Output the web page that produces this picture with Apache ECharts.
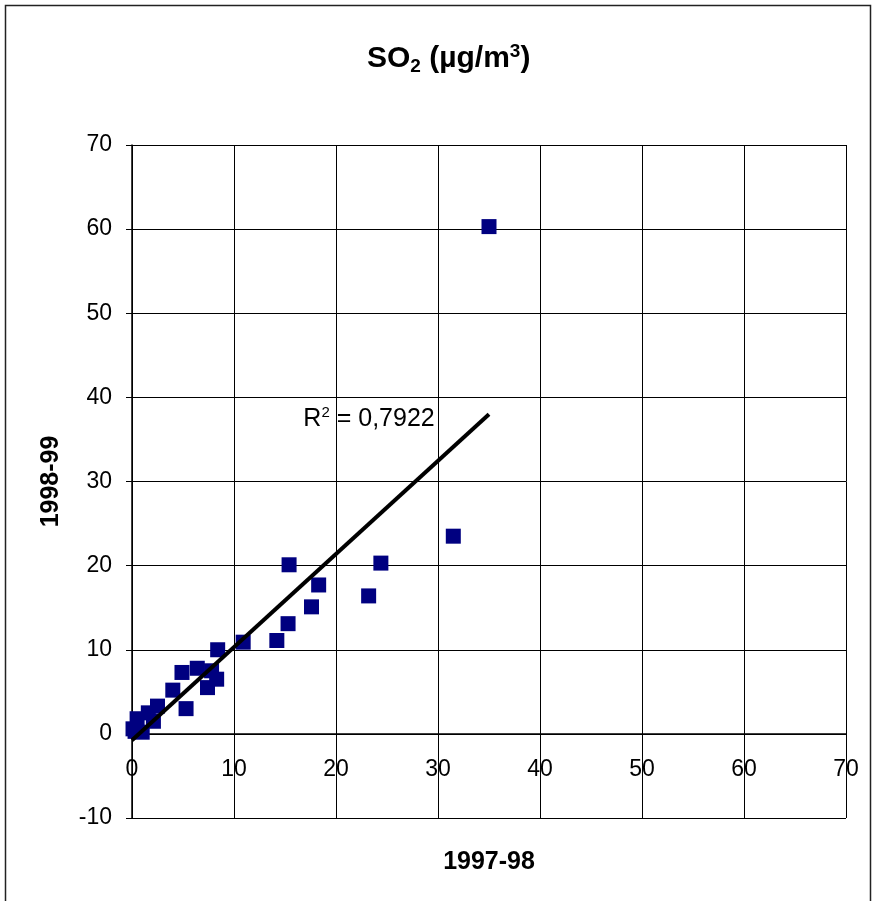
<!DOCTYPE html>
<html>
<head>
<meta charset="utf-8">
<script src="https://cdn.jsdelivr.net/npm/echarts@6/dist/echarts.min.js"></script>
<style>
html,body{margin:0;padding:0;background:#fff;}
#c{width:874px;height:901px;}
</style>
</head>
<body>
<div id="c"></div>
<script>
// Data
var x1997 = [35.0, 31.5, 24.4, 23.2, 15.4, 18.3, 17.6, 15.3, 14.2, 10.9, 8.4, 4.9, 6.4, 7.8, 8.3, 7.4, 4.0, 5.3, 2.5, 1.6, 2.1, 0.5, 0.1, 1.0, 0.3];
var y1998 = [60.3, 23.5, 20.3, 16.4, 20.1, 17.7, 15.1, 13.1, 11.1, 10.9, 10.0, 7.3, 7.8, 7.5, 6.5, 5.5, 5.2, 3.0, 3.3, 2.5, 1.5, 1.8, 0.6, 0.2, 0.3];
var trendX = [0, 35.0];
var trendY = [-0.75, 38.0];
var r2Pos = [16.8, 37.4];
var r2Value = '0,7922';
var xTicks = [0, 10, 20, 30, 40, 50, 60, 70];
var yTicks = [-10, 0, 10, 20, 30, 40, 50, 60, 70];

var font = 'Liberation Sans, Arial, sans-serif';
var gridTop = 145, gridBottom = 83, chartH = 901;
var plotH = chartH - gridTop - gridBottom;
// shift the x axis up so it sits on y = 0
var xOffset = -plotH * (0 - yTicks[0]) / (yTicks[yTicks.length - 1] - yTicks[0]);

var chart = echarts.init(document.getElementById('c'));
var pts = x1997.map(function (v, i) { return [v, y1998[i]]; });
var trend = trendX.map(function (v, i) { return [v, trendY[i]]; });

chart.setOption({
  animation: false,
  backgroundColor: '#fff',
  title: {
    text: '{b|SO}{s|2}{b| (µg/m}{p|3}{b|)}',
    left: 362,
    top: 37,
    textStyle: {
      rich: {
        b: { fontFamily: font, fontWeight: 'bold', fontSize: 30, color: '#000' },
        s: { fontFamily: font, fontWeight: 'bold', fontSize: 19, color: '#000', verticalAlign: 'bottom', padding: [15, 0, 0, 0] },
        p: { fontFamily: font, fontWeight: 'bold', fontSize: 19, color: '#000', verticalAlign: 'top', padding: [0, 0, 15, 0] }
      }
    }
  },
  graphic: [{
    type: 'rect',
    shape: { x: 5.5, y: 5.5, width: 865, height: 950 },
    style: { fill: 'none', stroke: '#222', lineWidth: 1.5 },
    silent: true
  }],
  grid: { left: 132, top: gridTop, right: 28, bottom: gridBottom, containLabel: false, outerBoundsMode: 'none' },
  xAxis: {
    type: 'value',
    min: xTicks[0], max: xTicks[xTicks.length - 1], interval: 10,
    name: '1997-98',
    nameLocation: 'middle',
    nameGap: 116,
    offset: xOffset,
    nameTextStyle: { fontFamily: font, fontWeight: 'bold', fontSize: 25, color: '#000' },
    axisLine: { onZero: false, lineStyle: { color: '#000', width: 1.5 } },
    axisTick: { show: true, length: 6, lineStyle: { color: '#000' } },
    axisLabel: { fontFamily: font, fontSize: 23, color: '#000', margin: 24 },
    splitLine: { show: true, lineStyle: { color: '#000', width: 1 } }
  },
  yAxis: {
    type: 'value',
    min: yTicks[0], max: yTicks[yTicks.length - 1], interval: 10,
    name: '1998-99',
    nameLocation: 'middle',
    nameGap: 68,
    nameRotate: 90,
    nameTextStyle: { fontFamily: font, fontWeight: 'bold', fontSize: 25, color: '#000' },
    axisLine: { show: true, onZero: false, lineStyle: { color: '#000', width: 1.5 } },
    axisTick: { show: true, length: 6, lineStyle: { color: '#000' } },
    axisLabel: { fontFamily: font, fontSize: 23, color: '#000', margin: 20 },
    splitLine: { show: true, lineStyle: { color: '#000', width: 1 } }
  },
  series: [
    {
      type: 'scatter',
      data: pts,
      symbol: 'rect',
      symbolSize: 15,
      itemStyle: { color: '#000080', opacity: 1 },
      z: 3
    },
    {
      type: 'line',
      data: trend,
      symbol: 'none',
      lineStyle: { color: '#000', width: 4 },
      z: 4
    },
    {
      type: 'scatter',
      data: [r2Pos],
      symbolSize: 0,
      silent: true,
      label: {
        show: true,
        position: 'right',
        distance: 0,
        color: '#000',
        opacity: 1,
        formatter: '{a|R}{p|2}{a| = ' + r2Value + '}',
        rich: {
          a: { fontFamily: font, fontSize: 25, color: '#000' },
          p: { fontFamily: font, fontSize: 15, color: '#000', verticalAlign: 'top', padding: [0, 0, 13, 0] }
        }
      },
      z: 5
    }
  ]
});
</script>
</body>
</html>
